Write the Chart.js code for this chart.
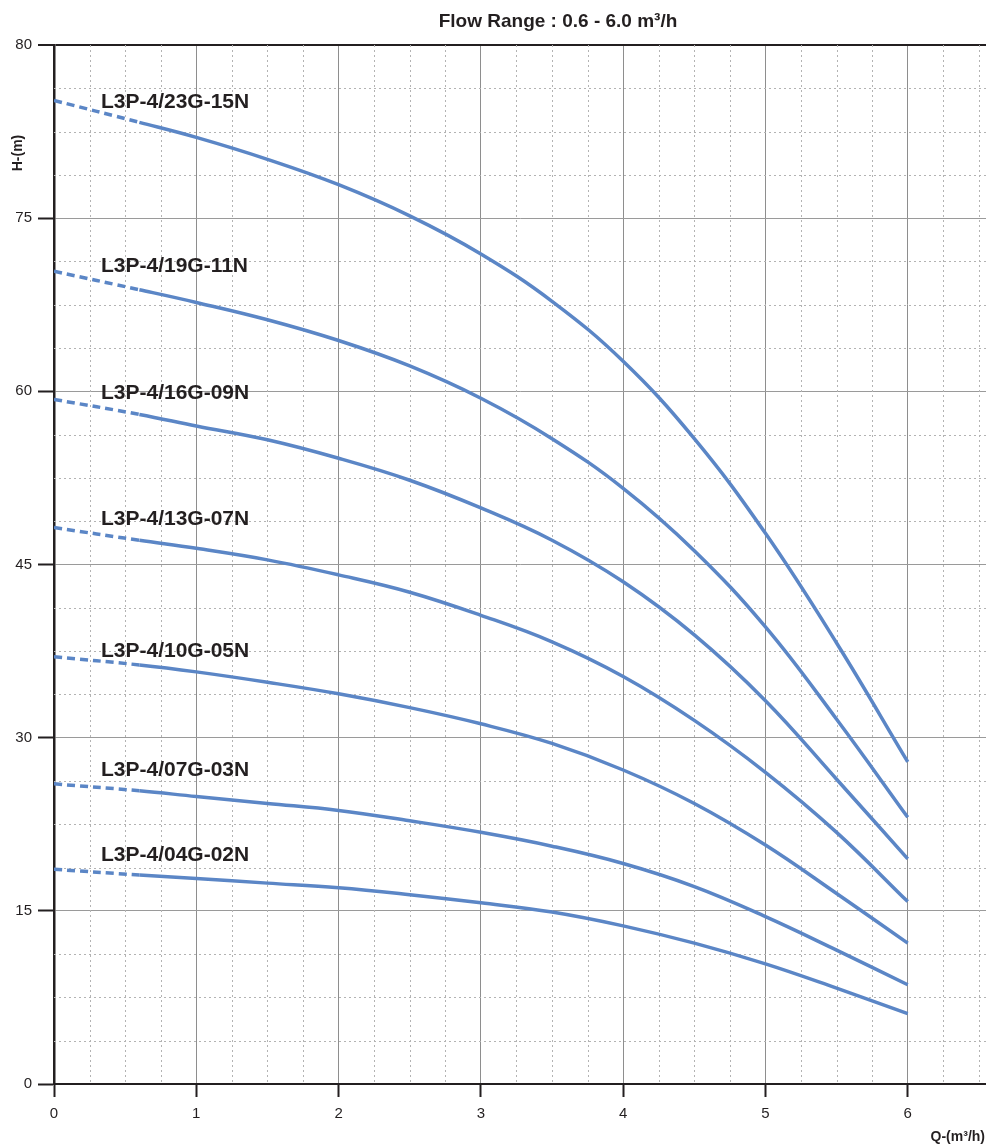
<!DOCTYPE html>
<html>
<head>
<meta charset="utf-8">
<script src="https://cdn.jsdelivr.net/npm/chart.js@4.4.1/dist/chart.umd.min.js"></script>
<style>
    body { margin: 0; background: #fff; }
    .chart-container { width: 986px; height: 1148px; position: relative; }
</style>
</head>
<body>
<div class="chart-container">
    <canvas id="pumpChart"></canvas>
</div>
<script>
const flowQ = [0, 0.6, 1, 1.5, 2, 2.5, 3, 3.5, 4, 4.5, 5, 5.5, 6];

const head23G = [85.2, 83.3, 82.0, 80.1, 77.9, 75.2, 71.9, 67.8, 62.6, 55.9, 47.7, 38.2, 27.9];
const head19G = [70.4, 68.8, 67.7, 66.2, 64.4, 62.2, 59.4, 55.9, 51.6, 46.2, 39.6, 31.6, 23.1];
const head16G = [59.3, 58.0, 57.0, 55.8, 54.2, 52.3, 49.9, 47.1, 43.5, 38.9, 33.2, 26.4, 19.5];
const head13G = [48.2, 47.1, 46.4, 45.4, 44.1, 42.6, 40.6, 38.3, 35.3, 31.5, 27.0, 21.8, 15.8];
const head10G = [37.0, 36.3, 35.7, 34.8, 33.8, 32.6, 31.2, 29.5, 27.2, 24.3, 20.7, 16.5, 12.2];
const head07G = [26.0, 25.4, 24.9, 24.3, 23.7, 22.8, 21.8, 20.6, 19.1, 17.1, 14.5, 11.6, 8.6];
const head04G = [18.6, 18.1, 17.8, 17.4, 17.0, 16.4, 15.7, 14.9, 13.7, 12.2, 10.4, 8.3, 6.1];

const modelNames = [
    "L3P-4/23G-15N",
    "L3P-4/19G-11N",
    "L3P-4/16G-09N",
    "L3P-4/13G-07N",
    "L3P-4/10G-05N",
    "L3P-4/07G-03N",
    "L3P-4/04G-02N",
];
const allHeads = [head23G, head19G, head16G, head13G, head10G, head07G, head04G];

// label baselines, in metres
const labelH = [84.55, 70.3, 59.3, 48.4, 37.0, 26.7, 19.3];
const labelQ = 0.33;

const xTicks = [0, 1, 2, 3, 4, 5, 6];
const xTickLabels = ["0", "1", "2", "3", "4", "5", "6"];
const yTicks = [0, 15, 30, 45, 60, 75, 90];
const yTickLabels = ["0", "15", "30", "45", "60", "75", "80"];

const flowMin = 0.6;
const titleText = "Flow Range : 0.6 - 6.0 m³/h";
const xTitle = "Q-(m³/h)";
const yTitle = "H-(m)";

const ink = "#231f20";
const lineBlue = "#5b86c6";
const fontFamily = '"Liberation Sans", Arial, Helvetica, sans-serif';

const minorGrid = {
    id: "minorGrid",
    beforeDatasetsDraw(chart) {
        const { ctx, chartArea, scales: { x, y } } = chart;
        ctx.save();
        ctx.strokeStyle = "#b3b3b3";
        ctx.lineWidth = 1;
        ctx.setLineDash([2, 3]);
        for (let v = 3.75; v < y.max; v += 3.75) {
            if (v % 15 === 0) continue;
            const py = Math.round(y.getPixelForValue(v)) + 0.5;
            ctx.beginPath();
            ctx.moveTo(chartArea.left, py);
            ctx.lineTo(chartArea.right, py);
            ctx.stroke();
        }
        for (let v = 0.25; v < x.max; v += 0.25) {
            if (v % 1 === 0) continue;
            const px = Math.round(x.getPixelForValue(v)) + 0.5;
            ctx.beginPath();
            ctx.moveTo(px, chartArea.top);
            ctx.lineTo(px, chartArea.bottom);
            ctx.stroke();
        }
        ctx.restore();
    },
};

const textLayer = {
    id: "textLayer",
    afterDatasetsDraw(chart) {
        const { ctx, scales: { x, y } } = chart;
        ctx.save();
        ctx.fillStyle = ink;

        ctx.font = "bold 21px " + fontFamily;
        ctx.textAlign = "left";
        ctx.textBaseline = "alphabetic";
        modelNames.forEach((name, i) => {
            ctx.fillText(name, x.getPixelForValue(labelQ), y.getPixelForValue(labelH[i]));
        });

        ctx.font = "bold 19px " + fontFamily;
        ctx.textAlign = "center";
        ctx.fillText(titleText, 558, 27);

        ctx.font = "bold 14px " + fontFamily;
        ctx.textAlign = "right";
        ctx.textBaseline = "middle";
        ctx.fillText(xTitle, 985, 1137);

        ctx.translate(18, 153);
        ctx.rotate(-Math.PI / 2);
        ctx.textAlign = "center";
        ctx.fillText(yTitle, 0, 0);
        ctx.restore();
    },
};

const buildDatasets = () => {
    return modelNames.map((name, i) => ({
        label: name,
        data: flowQ.map((q, j) => ({ x: q, y: allHeads[i][j] })),
        borderColor: lineBlue,
        borderWidth: 3.5,
        pointRadius: 0,
        fill: false,
        tension: 0.4,
        segment: {
            borderDash: (ctx) => (ctx.p0.parsed.x < flowMin ? [8, 5] : undefined),
        },
    }));
};

let ctx = document.getElementById("pumpChart").getContext("2d");

window.pumpChart = new Chart(ctx, {
    type: "line",
    data: {
        datasets: buildDatasets(),
    },
    options: {
        responsive: true,
        maintainAspectRatio: false,
        animation: false,
        layout: {
            padding: { top: 45, right: 0, left: 0, bottom: 0 },
        },
        scales: {
            x: {
                type: "linear",
                min: 0,
                max: 6.55,
                afterBuildTicks: (scale) => {
                    scale.ticks = xTicks.map((v) => ({ value: v }));
                },
                afterFit: (scale) => {
                    scale.height = 64;
                },
                ticks: {
                    padding: 8,
                    color: ink,
                    font: { family: fontFamily, size: 15 },
                    maxRotation: 0,
                    callback: (value, index) => xTickLabels[index],
                },
                grid: {
                    color: (c) => (c.tick && c.tick.value === 0 ? "rgba(0,0,0,0)" : "#8e8e8e"),
                    lineWidth: 1,
                    tickColor: ink,
                    tickLength: 13,
                    tickWidth: 2,
                },
                border: {
                    color: ink,
                    width: 2,
                },
            },
            y: {
                type: "linear",
                min: 0,
                max: 90,
                afterBuildTicks: (scale) => {
                    scale.ticks = yTicks.map((v) => ({ value: v }));
                },
                afterFit: (scale) => {
                    scale.width = 54;
                },
                ticks: {
                    padding: 6,
                    color: ink,
                    font: { family: fontFamily, size: 15 },
                    callback: (value, index) => yTickLabels[index],
                },
                grid: {
                    color: (c) => {
                        if (!c.tick) return "#9a9a9a";
                        if (c.tick.value === 90) return ink;
                        if (c.tick.value === 0) return "rgba(0,0,0,0)";
                        return "#9a9a9a";
                    },
                    lineWidth: (c) => (c.tick && c.tick.value === 90 ? 2 : 1),
                    tickColor: ink,
                    tickLength: 16,
                    tickWidth: 2,
                },
                border: {
                    color: ink,
                    width: 2.5,
                },
            },
        },
        plugins: {
            legend: { display: false },
            title: { display: false },
            tooltip: { enabled: false },
        },
    },
    plugins: [minorGrid, textLayer],
});
</script>
</body>
</html>
